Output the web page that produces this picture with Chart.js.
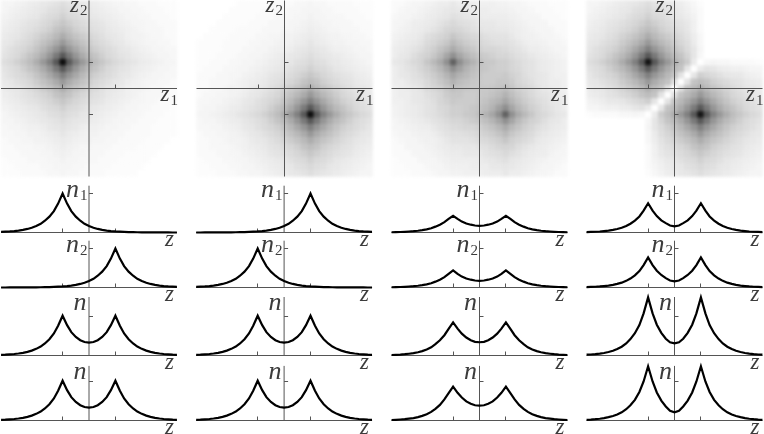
<!DOCTYPE html>
<html><head><meta charset="utf-8">
<style>html,body{margin:0;padding:0;background:#fff;width:764px;height:434px;overflow:hidden}canvas{position:absolute}.soft{filter:blur(1.8px)}</style>
<script src="https://cdn.jsdelivr.net/npm/chart.js@4/dist/chart.umd.min.js"></script>
</head><body>
<script>
// ---- curve samples: z positions and n(z) ----
const zGrid=[-3.33,-3.17,-3,-2.83,-2.67,-2.5,-2.33,-2.17,-2,-1.83,-1.67,-1.5,-1.33,-1.17,-1,-0.83,-0.67,-0.5,-0.33,-0.17,0,0.17,0.33,0.5,0.67,0.83,1,1.17,1.33,1.5,1.67,1.83,2,2.17,2.33,2.5,2.67,2.83,3,3.17,3.33];
const peakLeft=[.015,.02,.027,.037,.05,.067,.091,.122,.165,.223,.301,.407,.549,.741,1,.741,.549,.407,.301,.223,.165,.122,.091,.067,.05,.037,.027,.02,.015,.011,.008,.006,.005,.003,.002,.002,.001,.001,.001,0,0];
const peakRight=[0,0,.001,.001,.001,.002,.002,.003,.005,.006,.008,.011,.015,.02,.027,.037,.05,.067,.091,.122,.165,.223,.301,.407,.549,.741,1,.741,.549,.407,.301,.223,.165,.122,.091,.067,.05,.037,.027,.02,.015];
const twoPeaks=[.015,.02,.028,.038,.051,.069,.093,.125,.17,.229,.309,.418,.564,.761,1.02,.778,.599,.474,.392,.345,.33,.345,.392,.474,.599,.778,1.02,.761,.564,.418,.309,.229,.17,.125,.093,.069,.051,.038,.028,.02,.015];
const col3n1=[.007,.01,.013,.018,.025,.033,.045,.06,.08,.11,.15,.2,.265,.35,.43,.35,.28,.23,.2,.18,.17,.18,.2,.23,.28,.35,.43,.35,.265,.2,.15,.11,.08,.06,.045,.033,.025,.018,.013,.01,.007];
const col3n2=[.007,.01,.013,.018,.025,.033,.045,.06,.08,.11,.15,.2,.265,.35,.44,.35,.28,.23,.2,.18,.17,.18,.2,.23,.28,.35,.44,.35,.265,.2,.15,.11,.08,.06,.045,.033,.025,.018,.013,.01,.007];
const col3n=[.013,.018,.024,.033,.045,.06,.083,.113,.155,.21,.29,.39,.52,.68,.85,.69,.56,.46,.39,.35,.34,.35,.39,.46,.56,.69,.85,.68,.52,.39,.29,.21,.155,.113,.083,.06,.045,.033,.024,.018,.013];
const col3m=[.013,.018,.025,.034,.047,.063,.087,.118,.16,.22,.3,.4,.54,.7,.87,.71,.59,.49,.43,.39,.38,.39,.43,.49,.59,.71,.87,.7,.54,.4,.3,.22,.16,.118,.087,.063,.047,.034,.025,.018,.013];
const col4n1=[.01,.014,.019,.026,.036,.048,.066,.09,.12,.165,.225,.305,.41,.56,.75,.56,.42,.31,.24,.18,.16,.18,.24,.31,.42,.56,.75,.56,.41,.305,.225,.165,.12,.09,.066,.048,.036,.026,.019,.014,.01];
const col4n2=[.01,.014,.019,.027,.037,.05,.068,.093,.124,.17,.23,.31,.42,.575,.77,.575,.43,.32,.24,.18,.16,.18,.24,.32,.43,.575,.77,.575,.42,.31,.23,.17,.124,.093,.068,.05,.037,.027,.019,.014,.01];
const col4n=[.02,.026,.035,.048,.065,.09,.12,.165,.225,.31,.42,.57,.78,1.08,1.49,1.08,.79,.58,.43,.34,.31,.34,.43,.58,.79,1.08,1.49,1.08,.78,.57,.42,.31,.225,.165,.12,.09,.065,.048,.035,.026,.02];
const col4m=[.018,.024,.033,.045,.06,.085,.115,.155,.21,.29,.39,.53,.73,1,1.39,1,.72,.51,.36,.25,.21,.25,.36,.51,.72,1,1.39,1,.73,.53,.39,.29,.21,.155,.115,.085,.06,.045,.033,.024,.018];

// ---- density maps: cell centres and darkness (0-100) by row, top row first ----
const cellZ=[-3.21,-2.963,-2.716,-2.469,-2.222,-1.975,-1.728,-1.481,-1.235,-0.988,-0.741,-0.494,-0.247,0,0.247,0.494,0.741,0.988,1.235,1.481,1.728,1.975,2.222,2.469,2.716,2.963,3.21];
const mapA=[
[4,4,5,6,7,8,9,10,11,13,11,10,9,8,7,6,5,4,4,3,3,2,2,2,1,1,1],
[4,5,6,7,8,9,10,12,13,15,13,12,10,9,8,7,6,5,4,4,3,3,2,2,2,1,1],
[5,6,7,8,9,10,12,14,15,18,15,14,12,10,9,8,7,6,5,4,4,3,3,2,2,2,1],
[6,7,8,10,11,12,14,16,19,22,19,16,14,12,11,10,8,7,6,5,4,4,3,3,2,2,2],
[7,8,9,11,12,14,16,19,23,26,23,19,16,14,12,11,9,8,7,6,5,4,3,3,3,2,2],
[8,9,10,12,14,17,20,23,27,32,27,23,20,17,14,12,10,9,8,6,5,5,4,3,3,2,2],
[9,10,12,14,16,20,24,28,33,40,33,28,24,20,16,14,12,10,9,7,6,5,4,4,3,3,2],
[10,12,14,16,19,23,28,34,41,50,41,34,28,23,19,16,14,12,10,9,7,6,5,4,4,3,3],
[11,13,15,19,23,27,33,41,52,65,52,41,33,27,23,19,15,13,11,10,8,7,6,5,4,4,3],
[13,15,18,22,26,32,40,50,65,95,65,50,40,32,26,22,18,15,13,11,10,8,7,6,5,4,4],
[11,13,15,19,23,27,33,41,52,65,52,41,33,27,23,19,15,13,11,10,8,7,6,5,4,4,3],
[10,12,14,16,19,23,28,34,41,50,41,34,28,23,19,16,14,12,10,9,7,6,5,4,4,3,3],
[9,10,12,14,16,20,24,28,33,40,33,28,24,20,16,14,12,10,9,7,6,5,4,4,3,3,2],
[8,9,10,12,14,17,20,23,27,32,27,23,20,17,14,12,10,9,8,6,5,5,4,3,3,2,2],
[7,8,9,11,12,14,16,19,23,26,23,19,16,14,12,11,9,8,7,6,5,4,3,3,3,2,2],
[6,7,8,10,11,12,14,16,19,22,19,16,14,12,11,10,8,7,6,5,4,4,3,3,2,2,2],
[5,6,7,8,9,10,12,14,15,18,15,14,12,10,9,8,7,6,5,4,4,3,3,2,2,2,1],
[4,5,6,7,8,9,10,12,13,15,13,12,10,9,8,7,6,5,4,4,3,3,2,2,2,1,1],
[4,4,5,6,7,8,9,10,11,13,11,10,9,8,7,6,5,4,4,3,3,2,2,2,1,1,1],
[3,4,4,5,6,6,7,9,10,11,10,9,7,6,6,5,4,4,3,3,2,2,2,1,1,1,1],
[3,3,4,4,5,5,6,7,8,10,8,7,6,5,5,4,4,3,3,2,2,2,2,1,1,1,1],
[2,3,3,4,4,5,5,6,7,8,7,6,5,5,4,4,3,3,2,2,2,2,1,1,1,1,0],
[2,2,3,3,3,4,4,5,6,7,6,5,4,4,3,3,3,2,2,2,2,1,1,1,1,0,0],
[2,2,2,3,3,3,4,4,5,6,5,4,4,3,3,3,2,2,2,1,1,1,1,1,0,0,0],
[1,2,2,2,3,3,3,4,4,5,4,4,3,3,3,2,2,2,1,1,1,1,1,0,0,0,0],
[1,1,2,2,2,2,3,3,4,4,4,3,3,2,2,2,2,1,1,1,1,1,0,0,0,0,0],
[1,1,1,2,2,2,2,3,3,4,3,3,2,2,2,2,1,1,1,1,1,0,0,0,0,0,0]];
const mapCTop=[
[2,2,3,4,4,5,6,7,7,9,7,7,7,6,6,6,5,5,4,4,3,2,2,2,1,1,1],
[2,3,4,4,5,6,7,8,9,10,9,9,7,7,7,6,6,6,5,4,4,3,2,2,2,1,1],
[3,4,4,5,6,7,8,9,10,12,11,10,9,8,7,7,7,7,6,5,4,4,4,2,2,2,1],
[4,4,5,7,7,8,9,11,13,15,13,12,11,9,9,9,8,8,7,6,5,4,4,4,2,2,2],
[4,5,6,7,8,9,11,13,16,17,16,14,12,11,10,10,9,9,8,7,6,5,4,4,4,2,2],
[5,6,7,8,9,12,14,16,18,22,19,17,15,14,12,11,11,11,9,7,6,6,5,4,4,3,2],
[6,7,8,9,11,14,16,19,22,27,23,20,18,16,14,13,12,12,11,9,7,6,6,5,4,4,3],
[7,8,9,11,13,16,19,23,27,33,28,24,21,18,16,16,15,14,12,11,9,7,7,6,5,4,4],
[7,9,10,13,16,18,22,27,35,43,35,29,25,22,20,18,16,16,14,12,11,9,8,7,6,5,4],
[9,10,12,15,17,22,27,33,43,62,44,35,30,25,22,21,19,19,16,14,12,11,9,8,7,6,5],
[7,9,11,13,16,19,23,28,35,44,37,30,26,23,22,20,19,19,16,15,12,11,9,8,7,6,5],
[7,9,10,12,14,17,20,24,29,35,30,27,24,22,20,20,20,21,18,16,13,11,10,9,7,6,6],
[7,7,9,11,12,15,18,21,25,30,26,24,22,21,20,20,22,22,20,16,14,12,10,9,7,7,6],
[6,7,8,9,11,14,16,18,22,25,23,22,21,21,21,22,23,25,22,18,16,14,11,9,8,7,6]];
const mapDTop=[
[4,4,5,6,7,8,9,10,11,13,11,10,9,8,7,5,3,1,0,0,0,0,0,0,0,0,0],
[4,5,6,7,8,9,10,12,13,15,13,12,10,9,8,6,4,2,0,0,0,0,0,0,0,0,0],
[5,6,7,8,9,10,12,14,15,18,15,14,12,10,9,7,5,2,0,0,0,0,0,0,0,0,0],
[6,7,8,10,11,12,14,16,19,22,19,16,14,12,11,9,6,2,0,0,0,0,0,0,0,0,0],
[7,8,9,11,12,14,16,19,23,26,23,19,16,14,12,10,6,2,0,0,0,0,0,0,0,0,0],
[8,9,10,12,14,17,20,23,27,32,27,23,20,17,14,11,7,3,0,0,0,0,0,0,0,0,0],
[9,10,12,14,16,20,24,28,33,40,33,28,24,20,16,13,8,3,0,0,0,0,0,0,0,0,0],
[10,12,14,16,19,23,28,34,41,50,41,34,28,23,19,14,10,4,0,0,0,0,0,0,0,0,0],
[11,13,15,19,23,27,33,41,52,65,52,41,33,27,23,17,10,3,0,0,0,0,0,0,0,0,0],
[13,15,18,22,26,32,40,50,65,92,65,50,40,32,26,20,8,0,3,4,3,3,2,2,2,2,1],
[11,13,15,19,23,27,33,41,52,65,52,41,33,27,23,10,0,8,11,10,8,7,6,6,5,4,4],
[10,12,14,16,19,23,28,34,41,50,41,34,28,23,11,0,10,19,16,14,12,10,9,9,7,6,5],
[9,10,12,14,16,20,24,28,33,40,33,28,24,12,0,11,23,26,23,19,16,14,12,11,9,8,7],
[8,9,10,12,14,17,20,23,27,32,27,23,12,0,12,23,27,32,27,23,20,17,14,12,10,9,8]];
// The second map is the first turned by 180 degrees; the third and fourth have that same symmetry.
const halfTurn=rows=>[...rows].reverse().map(r=>[...r].reverse());
const mapB=halfTurn(mapA);
const mapC=[...mapCTop,...halfTurn(mapCTop.slice(0,13))];
const mapD=[...mapDTop,...halfTurn(mapDTop.slice(0,13))];

const heatMaps=[mapA,mapB,mapC,mapD];
const curveRows=[[peakLeft,peakRight,col3n1,col4n1],[peakRight,peakLeft,col3n2,col4n2],[twoPeaks,twoPeaks,col3n,col4n],[twoPeaks,twoPeaks,col3m,col4m]];
const rowSymbols=[['n','1'],['n','2'],['n',''],['n','']];
const rowTops=[1.2,1.2,1.5,1.4];
const tickValues=[-1,1];

// ---- layout ----
const heatCentres=[89,284.5,479.5,674.5];
const lineCentres=[89,284.1,479.5,674.5];
const baselines=[232.5,287.5,355.5,420.5];
const halfWidth=88, zMax=3.333, unitY=39, INK='#555', TEXT='#3c3c3c';

function label(ctx,x,y,main,sub,size,subDx,subDy){
  ctx.fillStyle=TEXT;ctx.textBaseline='alphabetic';ctx.textAlign='left';
  ctx.font='italic '+size+'px "Liberation Serif"';ctx.fillText(main,x,y);
  if(sub){ctx.font='15px "Liberation Serif"';ctx.fillText(sub,x+subDx,y+subDy);}
}
function line(ctx,x1,y1,x2,y2){ctx.beginPath();ctx.moveTo(x1,y1);ctx.lineTo(x2,y2);ctx.stroke();}
const crisp=v=>Math.floor(v)+.5;

const panelPlugin={id:'panel',
  beforeDatasetsDraw(c,a,o){ if(o.kind==='line')axes(c,o); },
  afterDatasetsDraw(c,a,o){
    if(o.kind==='heat')axes(c,o);
    if(o.kind)labels(c,o);
  }};
function axes(c,o){
  const ctx=c.ctx,X=c.scales.x,Y=c.scales.y,x0=X.getPixelForValue(0),y0=Y.getPixelForValue(0),A=c.chartArea;
  ctx.save();ctx.strokeStyle=INK;ctx.lineWidth=1;
  line(ctx,x0,A.top,x0,o.kind==='heat'?A.bottom:y0);
  line(ctx,A.left,y0,A.right,y0);
  tickValues.forEach(v=>{
    const px=crisp(X.getPixelForValue(v));line(ctx,px,y0,px,y0-4);
    if(o.kind==='heat'||v>0){const py=crisp(Y.getPixelForValue(v));line(ctx,x0,py,x0+4,py);}
  });
  ctx.restore();
}
function labels(c,o){
  const ctx=c.ctx,X=c.scales.x,Y=c.scales.y,x0=X.getPixelForValue(0),y0=Y.getPixelForValue(0);
  if(o.kind==='heat'){
    label(ctx,x0+71.5,y0+12,'z','1',23,10,4);
    label(ctx,x0-19,y0-76.5,'z','2',23,10,3);
  }else{
    const [m,s]=o.symbol;
    if(s)label(ctx,x0-23,y0-36,m,s,26,14,3.5);
    else label(ctx,x0-15.5,y0-(o.row===2?45.5:42),m,'',26,0,0);
    label(ctx,x0+76,y0+13,'z','',23,0,0);
  }
}
Chart.register(panelPlugin);

function addCanvas(left,top,w,h,cls){
  const el=document.createElement('canvas');
  el.width=w;el.height=h;el.style.left=left+'px';el.style.top=top+'px';
  el.style.width=w+'px';el.style.height=h+'px';
  if(cls)el.className=cls;
  document.body.appendChild(el);return el;
}
function scales(yMin,yMax){return{
  x:{type:'linear',min:-zMax,max:zMax,display:false},
  y:{type:'linear',min:yMin,max:yMax,display:false}};}
function base(padding,plugin){return{
  responsive:false,animation:false,devicePixelRatio:1,events:[],
  layout:{padding,autoPadding:false},
  plugins:{legend:{display:false},tooltip:{enabled:false},panel:plugin}};}

// density panels: a softened cell layer, with axes and labels on a sharp layer above it
heatMaps.forEach((rows,col)=>{
  const centre=heatCentres[col],left=Math.floor(centre-halfWidth)-3,w=182;
  const pts=[],colors=[];
  rows.forEach((row,j)=>row.forEach((d,i)=>{
    pts.push({x:cellZ[i],y:cellZ[26-j]});
    const g=Math.round(255*(1-d/100));colors.push('rgb('+g+','+g+','+g+')');
  }));
  const padL=centre-halfWidth-left;
  const pad={left:padL,right:w-padL-2*halfWidth,top:.5,bottom:3.5};
  new Chart(addCanvas(left,0,w,180,'soft'),{type:'scatter',
    data:{datasets:[{data:pts,pointStyle:'rect',pointRadius:4.95,pointBorderWidth:0,borderWidth:0,
      pointBackgroundColor:colors,clip:false}]},
    options:{...base(pad,{}),scales:scales(-zMax,zMax)}});
  new Chart(addCanvas(left,0,w,180),{type:'scatter',data:{datasets:[{data:[]}]},
    options:{...base(pad,{kind:'heat'}),scales:scales(-zMax,zMax)}});
});

// curve panels
curveRows.forEach((cols,row)=>cols.forEach((vals,col)=>{
  const centre=lineCentres[col],left=Math.floor(centre-halfWidth)-3,w=182;
  const h=rowTops[row]*unitY,H=Math.ceil(h)+24,bottomPad=16.5,topPad=H-bottomPad-h;
  const padL=centre-halfWidth-left;
  const top=baselines[row]+bottomPad-H;
  new Chart(addCanvas(left,top,w,H),{type:'line',
    data:{datasets:[{data:zGrid.map((z,i)=>({x:z,y:vals[i]})),borderColor:'#000',borderWidth:2.2,
      pointRadius:0,tension:0,borderJoinStyle:'miter',clip:false,fill:false}]},
    options:{...base({left:padL,right:w-padL-2*halfWidth,top:topPad,bottom:bottomPad},{kind:'line',row,symbol:rowSymbols[row]}),scales:scales(0,rowTops[row])}});
}));
</script>
</body></html>
